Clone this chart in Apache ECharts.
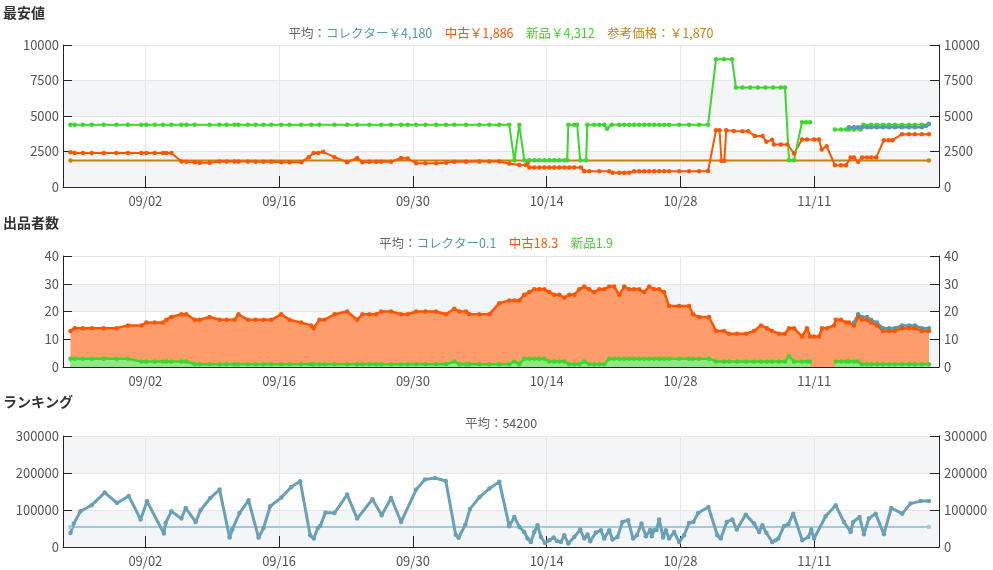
<!DOCTYPE html>
<html>
<head>
<meta charset="utf-8">
<script src="https://cdn.jsdelivr.net/npm/echarts@6/dist/echarts.min.js"></script>
<style>html,body{margin:0;padding:0;background:#fff}#chart{width:993px;height:570px}</style>
</head>
<body>
<div id="chart"></div>
<script>
// ---- data (x = days since 08/24) ----
const tickDays = [9, 23, 37, 51, 65, 79];
const axisMinDay = 0.38, axisMaxDay = 92.07;

const sectionTitles = ['最安値', '出品者数', 'ランキング'];
const priceAverages = { collector: '￥4,180', used: '￥1,886', new: '￥4,312', reference: '￥1,870' };
const countAverages = { collector: '0.1', used: '18.3', new: '1.9' };
const rankAverage = 54200;

const referencePrice = [[1.16,1870],[91.01,1870]];
const usedPrice = [[1.16,2450],[1.61,2400],[2.45,2400],[3.39,2400],[4.64,2400],[5.97,2400],[7.18,2400],[8.58,2400],[9.11,2400],[9.98,2400],[10.84,2400],[11.20,2400],[11.72,2400],[12.77,1800],[13.29,1780],[14.16,1750],[14.68,1700],[15.73,1700],[16.78,1800],[17.50,1800],[18.34,1800],[18.75,1800],[19.73,1800],[20.54,1780],[21.37,1780],[22.18,1780],[23.22,1750],[24.09,1750],[25.31,1750],[26.10,2100],[26.60,2400],[27.10,2400],[27.60,2480],[28.80,2100],[30.12,1750],[31.17,2050],[31.72,1750],[32.45,1780],[33.16,1780],[33.68,1780],[34.72,1780],[35.77,2050],[36.46,2000],[37.34,1680],[38.31,1680],[39.43,1680],[40.47,1700],[41.34,1780],[42.57,1780],[43.96,1800],[45.00,1800],[46.05,1800],[47.09,1650],[48.14,1550],[48.80,1550],[49.00,1650],[49.20,1380],[49.71,1380],[50.23,1380],[50.76,1380],[51.28,1380],[51.80,1380],[52.33,1380],[52.85,1380],[53.37,1380],[53.89,1380],[54.59,1380],[54.94,1110],[55.46,1110],[56.51,1110],[57.55,1110],[57.90,1000],[58.60,1000],[59.12,1000],[59.64,1000],[60.16,1110],[60.69,1110],[61.21,1110],[61.73,1110],[62.25,1110],[62.78,1110],[63.30,1110],[63.82,1110],[64.87,1110],[65.91,1110],[66.96,1110],[67.90,1130],[68.73,4000],[69.10,4000],[69.30,1840],[69.60,1840],[69.80,4000],[70.60,3950],[71.50,3920],[72.10,3920],[72.80,3600],[73.60,3600],[74.00,3180],[74.60,3330],[74.80,3000],[75.50,3000],[76.20,3000],[76.89,2360],[77.73,3350],[78.25,3350],[78.99,3350],[79.51,3350],[79.79,2640],[80.31,2870],[81.18,1530],[81.82,1530],[82.34,1530],[82.82,2080],[83.18,2080],[83.60,1770],[84.01,2080],[84.54,2080],[85.00,2080],[85.50,2080],[86.30,3300],[86.80,3300],[87.20,3300],[88.20,3720],[88.93,3720],[89.55,3720],[90.28,3720],[91.01,3720]];
const newPrice = [[1.16,4380],[1.61,4380],[2.45,4380],[3.39,4380],[4.64,4380],[5.97,4380],[7.18,4380],[8.58,4380],[9.11,4380],[9.98,4380],[10.84,4380],[11.72,4380],[12.77,4380],[13.29,4380],[14.16,4380],[15.73,4380],[16.78,4380],[17.50,4380],[18.34,4380],[18.75,4380],[19.73,4380],[20.54,4380],[21.37,4380],[22.18,4380],[23.22,4380],[24.09,4380],[25.31,4380],[26.36,4380],[27.23,4380],[28.80,4380],[30.12,4380],[31.17,4380],[32.45,4380],[33.68,4380],[34.72,4380],[35.77,4380],[36.46,4380],[37.34,4380],[38.31,4380],[39.43,4380],[40.47,4380],[41.34,4380],[42.57,4380],[43.96,4380],[45.00,4380],[46.05,4380],[47.09,4380],[47.62,1880],[48.14,4380],[48.66,1880],[49.19,1880],[49.71,1880],[50.23,1880],[50.76,1880],[51.28,1880],[51.80,1880],[52.33,1880],[52.85,1880],[53.16,1880],[53.27,4380],[53.89,4380],[54.20,4380],[54.51,1880],[55.14,1880],[55.25,4380],[55.98,4380],[56.51,4380],[57.03,4380],[57.33,4100],[57.80,4380],[58.60,4380],[59.12,4380],[59.64,4380],[60.16,4380],[60.69,4380],[61.21,4380],[61.73,4380],[62.25,4380],[62.78,4380],[63.30,4380],[63.82,4380],[64.87,4380],[65.91,4380],[66.96,4380],[67.90,4380],[68.73,9000],[69.57,9000],[70.40,9000],[70.82,7000],[71.50,7000],[72.30,7000],[73.10,7000],[73.90,7000],[74.70,7000],[75.50,7000],[75.95,7000],[76.37,1880],[76.89,1880],[77.73,4560],[78.15,4560],[78.57,4560],[79.80,null],[81.18,4050],[81.82,4050],[82.34,4050],[82.65,4050],[83.18,4050],[83.86,4050],[84.17,4380],[84.96,4380],[85.58,4380],[86.21,4380],[86.84,4380],[87.46,4380],[88.19,4380],[88.93,4380],[89.55,4380],[90.28,4380],[91.01,4420]];
const collectorPrice = [[82.65,4200],[83.18,4200],[83.60,4200],[84.01,4200],[84.54,4200],[84.96,4200],[85.58,4200],[86.21,4200],[86.84,4200],[87.46,4200],[88.19,4200],[88.93,4200],[89.55,4200],[90.28,4200],[90.70,4300],[91.01,4450]];

const countDays = [1.16,1.61,2.45,3.39,4.64,5.97,7.18,8.58,9.11,9.98,10.84,11.20,11.72,12.77,13.29,14.16,14.68,15.73,16.78,17.50,18.34,18.75,19.73,20.54,21.37,22.18,23.22,24.09,25.31,26.36,26.60,27.23,27.75,28.80,30.12,31.17,31.72,32.45,33.16,33.68,34.72,35.77,36.46,37.34,38.31,39.43,40.47,41.34,41.87,42.57,42.91,43.96,45.00,46.05,47.09,47.62,48.14,48.66,49.19,49.71,50.23,50.76,51.28,51.80,52.33,52.85,53.37,53.89,54.42,54.94,55.46,55.98,56.51,57.03,57.55,58.07,58.60,59.12,59.64,60.16,60.69,61.21,61.73,62.25,62.78,63.30,63.82,64.87,65.91,66.33,66.96,68.00,68.73,69.57,70.09,70.93,71.87,72.70,73.44,74.06,74.59,75.32,75.95,76.37,76.89,77.73,78.25,78.57,78.99,79.51,79.83,80.35,81.08,81.26,81.82,82.34,82.65,83.18,83.60,84.01,84.54,84.96,85.58,86.21,86.84,87.46,88.19,88.93,89.55,90.28,91.01];
const newCount = [3,3,3,3,3,3,3,2,2,2,2,2,2,2,2,1,1,1,1,1,1,1,1,1,1,1,1,1,1,1,1,1,1,1,1,1,1,1,1,1,1,1,1,1,1,1,1,2,1,1,1,1,1,1,1,2,1,3,3,3,3,3,2,2,2,2,1,1,1,2,1,1,1,1,3,3,3,3,3,3,3,3,3,3,3,3,3,3,3,3,3,3,2,2,2,2,2,2,2,2,2,2,2,4,2,2,2,2,null,null,null,null,null,2,2,2,2,2,2,1,1,1,1,1,1,1,1,1,1,1,1];
const usedCount = [10,11,11,11,11,11,12,13,14,14,14,15,16,17,17,16,16,17,16,16,16,18,16,16,16,16,18,16,15,14,13,16,16,18,19,16,18,18,18,19,19,18,18,19,19,19,18,19,19,19,18,18,18,22,23,22,23,23,24,25,25,25,25,24,24,23,25,25,27,27,27,26,27,27,26,26,23,26,25,25,25,24,26,25,25,24,19,19,19,16,15,15,11,11,10,10,10,11,13,12,11,10,10,10,12,9,12,9,11,11,14,14,15,15,15,14,14,13,16,16,16,15,14,12,12,12,13,13,13,12,12];
const collectorCount = [null,null,null,null,null,null,null,null,null,null,null,null,null,null,null,null,null,null,null,null,null,null,null,null,null,null,null,null,null,null,null,null,null,null,null,null,null,null,null,null,null,null,null,null,null,null,null,null,null,null,null,null,null,null,null,null,null,null,null,null,null,null,null,null,null,null,null,null,null,null,null,null,null,null,null,null,null,null,null,null,null,null,null,null,null,null,null,null,null,null,null,null,null,null,null,null,null,null,null,null,null,null,null,null,null,null,null,null,null,null,null,null,null,null,null,null,null,1,1,1,1,1,1,1,1,1,1,1,1,1,1,1,1];

const rankPoints = [[1.16,37800],[1.51,63200],[2.21,96500],[3.36,112700],[4.75,147000],[6.03,118900],[7.26,137800],[8.51,74000],[9.17,123500],[10.95,36200],[11.12,65000],[11.72,96500],[12.77,76700],[13.22,105400],[14.26,67600],[14.78,99200],[15.80,132400],[16.77,155100],[17.82,25400],[18.10,47000],[18.86,91900],[19.80,126200],[20.85,25400],[21.37,51400],[22.07,110000],[23.22,133500],[24.27,162200],[25.21,177600],[26.25,31600],[26.63,22700],[27.05,51400],[27.30,56800],[27.85,93000],[28.80,91900],[30.12,141600],[31.17,76700],[32.77,129000],[33.74,85700],[34.72,132400],[35.77,67600],[37.34,155100],[38.26,182500],[39.32,186500],[40.45,178400],[41.48,33000],[41.79,25000],[42.49,60000],[42.98,103000],[43.99,135100],[45.00,157800],[46.05,176500],[47.09,56000],[47.62,81100],[48.14,54000],[48.66,40500],[49.01,22700],[49.36,13500],[49.71,40500],[50.05,58600],[50.41,27000],[50.83,10800],[51.28,18100],[51.73,25400],[52.08,16200],[52.50,13500],[52.85,31600],[53.27,9200],[53.89,27000],[54.52,47000],[54.94,22700],[55.28,33500],[55.56,15400],[56.16,38900],[56.68,45100],[57.03,22700],[57.55,45100],[57.90,20000],[58.42,27000],[58.94,67600],[59.53,72200],[60.05,22700],[60.45,31600],[60.93,63200],[61.39,28900],[61.84,46000],[62.01,28900],[62.25,45100],[62.50,46000],[62.78,74000],[63.20,25400],[63.48,45100],[63.82,22700],[64.35,40500],[64.87,13500],[65.39,31600],[65.91,65000],[66.36,67600],[66.86,91900],[67.93,108100],[68.87,31600],[69.23,22700],[69.86,67600],[70.44,74000],[70.90,47000],[71.84,87500],[72.71,63200],[73.24,40500],[73.58,58600],[74.00,37800],[74.62,13500],[74.98,18100],[75.25,22700],[75.85,56800],[76.29,61300],[76.82,90100],[77.76,18100],[78.39,27000],[78.70,47000],[78.99,22700],[80.21,83000],[81.25,112700],[82.12,67600],[82.82,40500],[83.09,67600],[83.76,81100],[84.21,34300],[84.73,76700],[85.43,90100],[86.30,34300],[87.07,105400],[88.22,90100],[89.09,117300],[90.14,124000],[91.01,124300]];
const rankAvgLine = [[1.16, rankAverage], [91.01, rankAverage]];

// ---- stacked totals for the listing-count chart (new -> used -> collector) ----
const newTop = newCount.map((v) => v);
const usedTop = usedCount.map((u, i) => (u == null ? null : u + (newCount[i] || 0)));
const collectorTop = collectorCount.map((c, i) => (c == null ? null : c + usedTop[i]));

// ---- styling ----
const FONT = '"Noto Sans CJK JP", "Noto Sans", sans-serif';
const C = { collector: '#5698ad', used: '#ff5500', new: '#3dd62c', reference: '#c9800e', rank: '#6aa0b5', rankAvg: '#9dcce0', gray: '#666' };
const FILL = { collector: '#9ac2cf', used: '#ff9c6b', new: '#8fe785' };
const grids = [
  { left: 63, top: 45, width: 876, height: 142 },
  { left: 63, top: 256, width: 876, height: 111 },
  { left: 63, top: 436, width: 876, height: 111 }
];
const yRanges = [[0, 10000, 2500], [0, 40, 10], [0, 300000, 100000]];

function dayLabel(v) {
  const t = new Date(Date.UTC(2019, 7, 24) + Math.round(v) * 86400000);
  const p = (n) => (n < 10 ? '0' : '') + n;
  return p(t.getUTCMonth() + 1) + '/' + p(t.getUTCDate());
}

const xAxes = grids.map((g, i) => ({
  type: 'value', gridIndex: i, min: axisMinDay, max: axisMaxDay,
  axisLine: { show: true, onZero: false, lineStyle: { color: '#222' } },
  axisTick: { show: true, inside: true, length: 11, customValues: tickDays, lineStyle: { color: '#222' } },
  axisLabel: { customValues: tickDays, formatter: dayLabel, color: '#555', fontSize: 13, fontFamily: FONT, margin: 8 },
  splitLine: { show: true, lineStyle: { color: '#e6e6e6' } }
}));
const yAxes = [];
grids.forEach((g, i) => {
  const [mn, mx, iv] = yRanges[i];
  const common = {
    type: 'value', gridIndex: i, min: mn, max: mx, interval: iv,
    axisLine: { show: true, lineStyle: { color: '#222' } },
    axisTick: { show: true, inside: true, length: 9, lineStyle: { color: '#222' } }
  };
  yAxes.push(Object.assign({}, common, {
    position: 'left',
    axisLabel: { color: '#555', fontSize: 13, fontFamily: FONT, margin: 4, formatter: (v) => String(v) },
    splitLine: { show: true, lineStyle: { color: '#e6e6e6' } },
    splitArea: { show: true, areaStyle: { color: ['#f4f5f7', '#ffffff'] } }
  }));
  yAxes.push(Object.assign({}, common, {
    position: 'right',
    axisLabel: { color: '#555', fontSize: 13, fontFamily: FONT, margin: 5, formatter: (v) => String(v) },
    splitLine: { show: false }, splitArea: { show: false }
  }));
});

function lineSeries(gi, data, color, width, extra) {
  return Object.assign({
    type: 'line', xAxisIndex: gi, yAxisIndex: gi * 2, data: data,
    color: color, symbol: 'circle', symbolSize: 4.5, showSymbol: true,
    lineStyle: { width: width, color: color }, itemStyle: { color: color },
    connectNulls: false, silent: true, animation: false
  }, extra || {});
}
const zip = (vals) => countDays.map((d, i) => [d, vals[i]]);

const series = [
  lineSeries(0, referencePrice, C.reference, 2),
  lineSeries(0, usedPrice, C.used, 2),
  lineSeries(0, newPrice, C.new, 2),
  lineSeries(0, collectorPrice, C.collector, 2.5),
  lineSeries(1, zip(collectorTop), C.collector, 2.5, { areaStyle: { color: FILL.collector, opacity: 1 } }),
  lineSeries(1, zip(usedTop), C.used, 2.5, { areaStyle: { color: FILL.used, opacity: 1 } }),
  lineSeries(1, zip(newTop), C.new, 2.5, { areaStyle: { color: FILL.new, opacity: 1 } }),
  lineSeries(2, rankAvgLine, C.rankAvg, 2),
  lineSeries(2, rankPoints, C.rank, 3)
];

const subStyle = (color) => ({ color: color, fontSize: 12.5, fontWeight: 'normal', fontFamily: FONT, lineHeight: 14 });
const titleStyle = { fontSize: 14, fontWeight: 'bold', color: '#333', fontFamily: FONT, lineHeight: 16 };
const richAll = { g: subStyle(C.gray), c: subStyle(C.collector), u: subStyle(C.used), n: subStyle(C.new), r: subStyle(C.reference), k: subStyle('#555') };
const baseSub = { fontSize: 12.5, fontWeight: 'normal', fontFamily: FONT, color: '#666', lineHeight: 14, rich: richAll };

const titles = [
  { text: sectionTitles[0], left: 3, top: 5, padding: 0, textStyle: titleStyle },
  { text: sectionTitles[1], left: 3, top: 215, padding: 0, textStyle: titleStyle },
  { text: sectionTitles[2], left: 3, top: 394, padding: 0, textStyle: titleStyle },
  { text: '{g|平均：}{c|コレクター' + priceAverages.collector + '}　{u|中古' + priceAverages.used + '}　{n|新品' + priceAverages.new + '}　{r|参考価格：' + priceAverages.reference + '}',
    left: 501, top: 26, padding: 0, textAlign: 'center', textStyle: baseSub },
  { text: '{g|平均：}{c|コレクター' + countAverages.collector + '}　{u|中古' + countAverages.used + '}　{n|新品' + countAverages.new + '}',
    left: 496, top: 236, padding: 0, textAlign: 'center', textStyle: baseSub },
  { text: '{g|平均：}{k|' + rankAverage + '}', left: 501, top: 416, padding: 0, textAlign: 'center', textStyle: baseSub }
];

const chart = echarts.init(document.getElementById('chart'), null, { renderer: 'canvas' });
chart.setOption({
  animation: false,
  backgroundColor: '#ffffff',
  textStyle: { fontFamily: FONT },
  title: titles,
  grid: grids,
  xAxis: xAxes,
  yAxis: yAxes,
  series: series
});
</script>
</body>
</html>
